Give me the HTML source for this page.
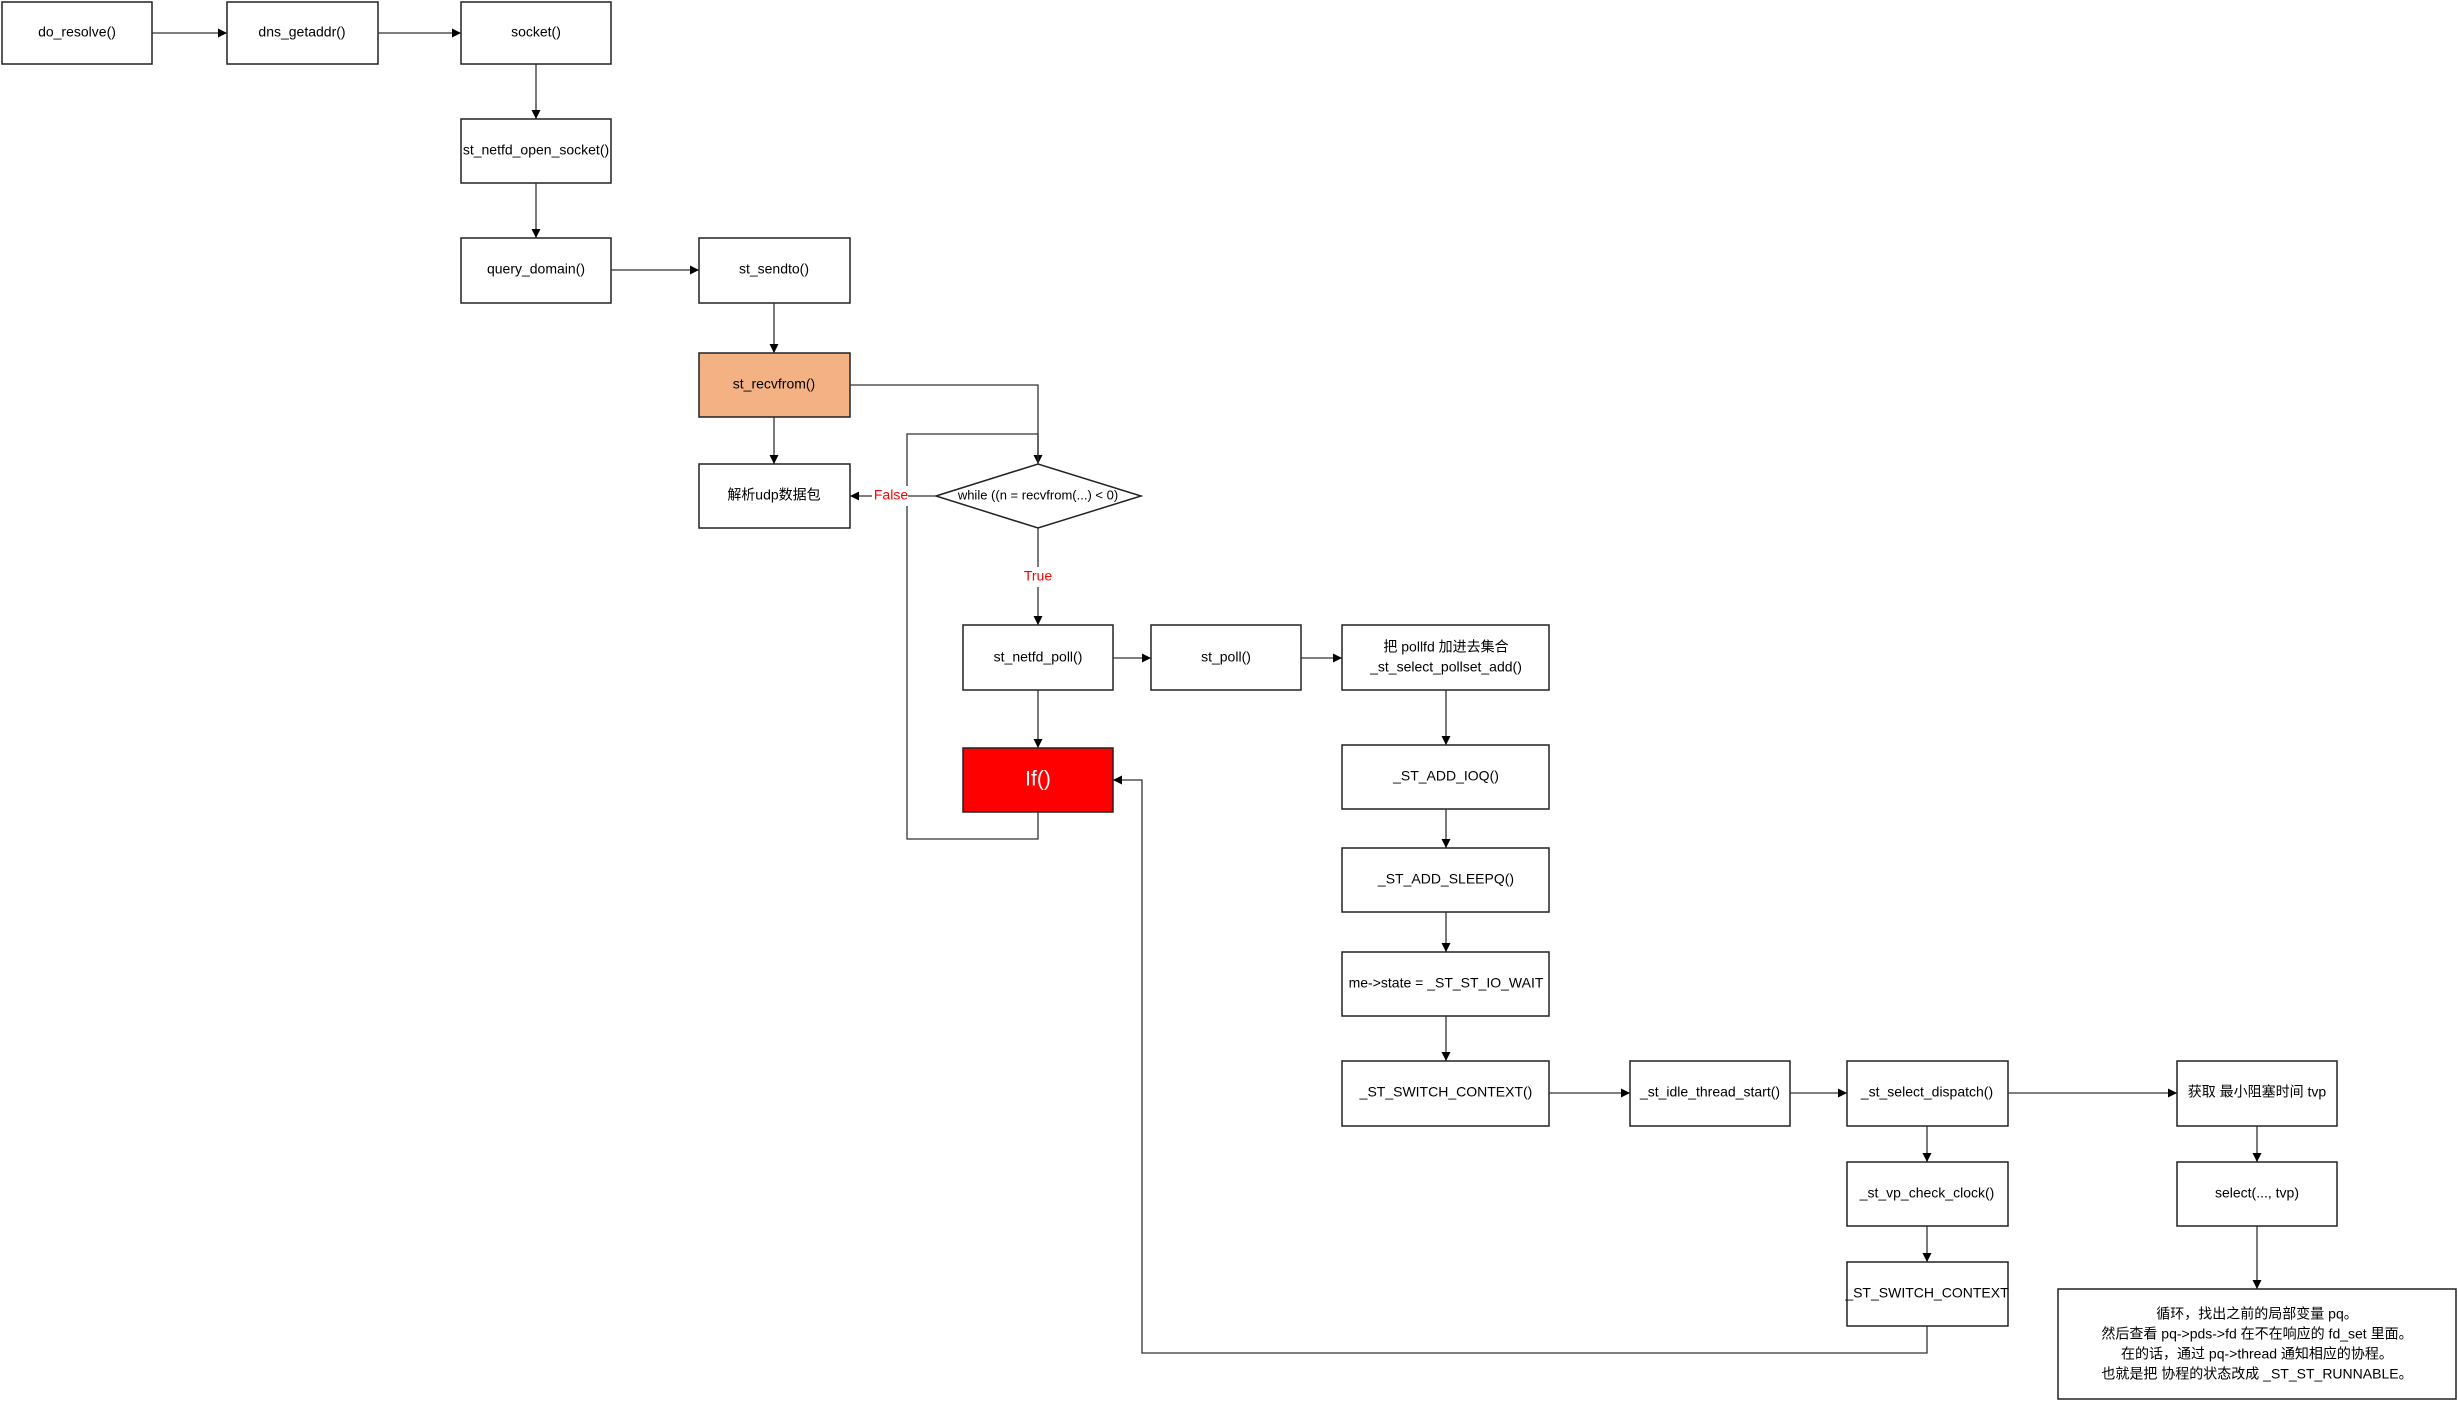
<!DOCTYPE html>
<html><head><meta charset="utf-8"><style>
html,body{margin:0;padding:0;background:#fff;width:2458px;height:1401px;overflow:hidden}
svg text{font-family:"Liberation Sans","Noto Sans CJK SC",sans-serif;font-size:14px;fill:#000;text-anchor:middle;dominant-baseline:middle}
</style></head><body>
<svg width="2458" height="1401" viewBox="0 0 2458 1401" xmlns="http://www.w3.org/2000/svg">
<defs><marker id="a" viewBox="0 0 10 10" refX="10" refY="5" markerWidth="9" markerHeight="9" markerUnits="userSpaceOnUse" orient="auto"><path d="M0,0L10,5L0,10z" fill="#000"/></marker></defs>
<g fill="#fff" stroke="#222" stroke-width="1.5">
<rect x="2" y="2" width="150" height="62"/>
<rect x="227" y="2" width="151" height="62"/>
<rect x="461" y="2" width="150" height="62"/>
<rect x="461" y="119" width="150" height="64"/>
<rect x="461" y="238" width="150" height="65"/>
<rect x="699" y="238" width="151" height="65"/>
<rect x="699" y="353" width="151" height="64" fill="#F4B183"/>
<rect x="699" y="464" width="151" height="64"/>
<polygon points="936,496 1038,464 1141,496 1038,528"/>
<rect x="963" y="625" width="150" height="65"/>
<rect x="1151" y="625" width="150" height="65"/>
<rect x="1342" y="625" width="207" height="65"/>
<rect x="963" y="748" width="150" height="64" fill="#FF0000"/>
<rect x="1342" y="745" width="207" height="64"/>
<rect x="1342" y="848" width="207" height="64"/>
<rect x="1342" y="952" width="207" height="64"/>
<rect x="1342" y="1061" width="207" height="65"/>
<rect x="1630" y="1061" width="160" height="65"/>
<rect x="1847" y="1061" width="161" height="65"/>
<rect x="2177" y="1061" width="160" height="65"/>
<rect x="1847" y="1162" width="161" height="64"/>
<rect x="1847" y="1262" width="161" height="64"/>
<rect x="2177" y="1162" width="160" height="64"/>
<rect x="2058" y="1289" width="398" height="110"/>
</g>
<g fill="none" stroke="#333" stroke-width="1.3" marker-end="url(#a)">
<path d="M152,33H227"/><path d="M378,33H461"/>
<path d="M536,64V119"/><path d="M536,183V238"/>
<path d="M611,270H699"/><path d="M774,303V353"/><path d="M774,417V464"/>
<path d="M850,385H1038V464"/>
<path d="M1038,812V839H907V434H1038V464" marker-end="none"/>
<path d="M936,496H850"/>
<path d="M1038,528V625"/>
<path d="M1113,658H1151"/><path d="M1301,658H1342"/>
<path d="M1038,690V748"/>
<path d="M1446,690V745"/><path d="M1446,809V848"/><path d="M1446,912V952"/><path d="M1446,1016V1061"/>
<path d="M1549,1093H1630"/><path d="M1790,1093H1847"/><path d="M2008,1093H2177"/>
<path d="M1927,1126V1162"/><path d="M1927,1226V1262"/>
<path d="M2257,1126V1162"/><path d="M2257,1226V1289"/>
<path d="M1927,1326V1353H1142V780H1113"/>
</g>
<rect x="872" y="486" width="36" height="20" fill="#fff"/>
<text x="891" y="496" style="fill:#f00">False</text>
<rect x="1020" y="567" width="36" height="20" fill="#fff"/>
<text x="1038" y="577" style="fill:#f00">True</text>
<text x="77" y="33">do_resolve()</text>
<text x="302" y="33">dns_getaddr()</text>
<text x="536" y="33">socket()</text>
<text x="536" y="151">st_netfd_open_socket()</text>
<text x="536" y="270">query_domain()</text>
<text x="774" y="270">st_sendto()</text>
<text x="774" y="385">st_recvfrom()</text>
<text x="774" y="496">解析udp数据包</text>
<text x="1038" y="496" style="font-size:13px">while ((n = recvfrom(...) &lt; 0)</text>
<text x="1038" y="658">st_netfd_poll()</text>
<text x="1226" y="658">st_poll()</text>
<text x="1446" y="648">把 pollfd 加进去集合</text>
<text x="1446" y="668">_st_select_pollset_add()</text>
<text x="1038" y="780" style="fill:#fff;font-size:21px">If()</text>
<text x="1446" y="777">_ST_ADD_IOQ()</text>
<text x="1446" y="880">_ST_ADD_SLEEPQ()</text>
<text x="1446" y="984">me-&gt;state = _ST_ST_IO_WAIT</text>
<text x="1446" y="1093">_ST_SWITCH_CONTEXT()</text>
<text x="1710" y="1093">_st_idle_thread_start()</text>
<text x="1927" y="1093">_st_select_dispatch()</text>
<text x="2257" y="1093">获取 最小阻塞时间 tvp</text>
<text x="1927" y="1194">_st_vp_check_clock()</text>
<text x="1927" y="1294">_ST_SWITCH_CONTEXT</text>
<text x="2257" y="1194">select(...,   tvp)</text>
<text x="2257" y="1315">循环，找出之前的局部变量 pq。</text>
<text x="2257" y="1335">然后查看 pq-&gt;pds-&gt;fd 在不在响应的 fd_set 里面。</text>
<text x="2257" y="1355">在的话，通过 pq-&gt;thread 通知相应的协程。</text>
<text x="2257" y="1375">也就是把 协程的状态改成 _ST_ST_RUNNABLE。</text>
</svg>
</body></html>
